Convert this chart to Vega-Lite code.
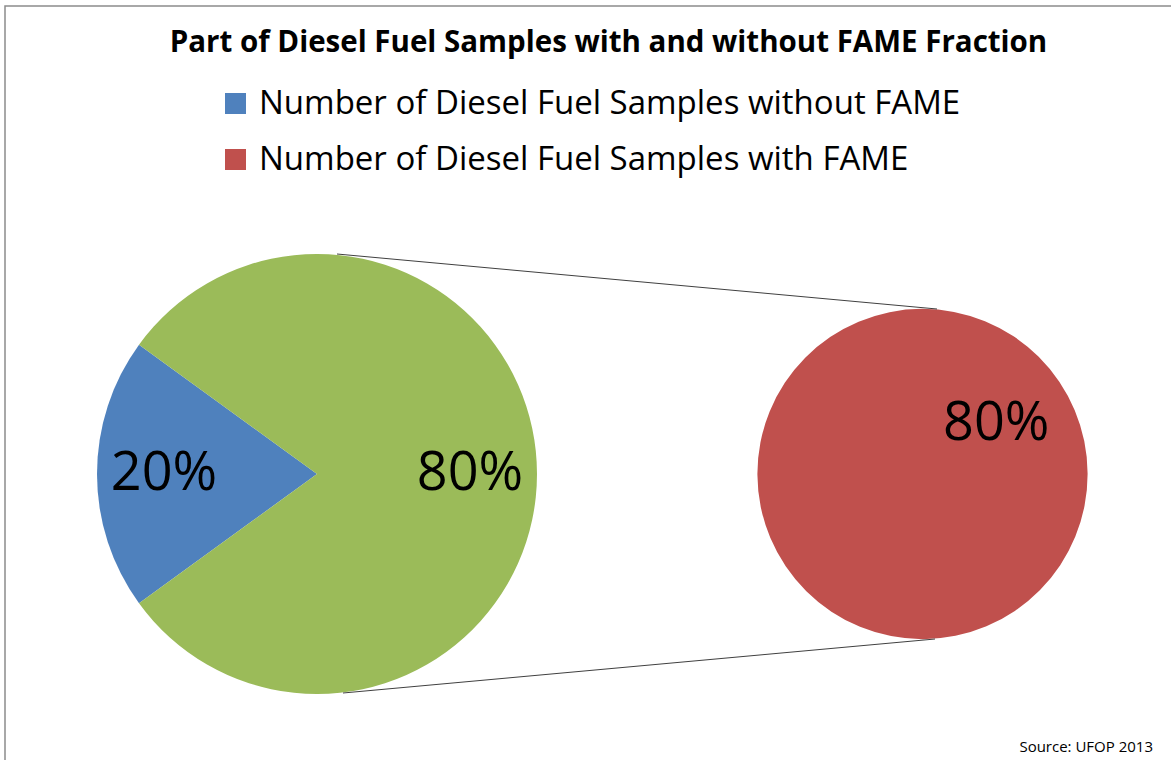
{
  "$schema": "https://vega.github.io/schema/vega-lite/v6.json",
  "width": 1171,
  "height": 760,
  "autosize": {"type": "fit", "contains": "padding"},
  "padding": {"left": 5, "top": 6, "right": -3, "bottom": -3},
  "background": "white",
  "config": {
    "font": "Open Sans",
    "view": {"stroke": "#8c8c8c", "strokeWidth": 1.5}
  },
  "title": {
    "text": "Part of Diesel Fuel Samples with and without FAME Fraction",
    "fontSize": 29.5,
    "fontWeight": "bold",
    "color": "black",
    "anchor": "middle",
    "frame": "group",
    "offset": -52,
    "dx": 19
  },
  "datasets": {
    "main": [
      {"category": "Number of Diesel Fuel Samples without FAME", "share": 0.2},
      {"category": "Other", "share": 0.8}
    ],
    "secondary": [
      {"category": "Number of Diesel Fuel Samples with FAME", "share": 0.8}
    ]
  },
  "resolve": {"scale": {"theta": "independent"}},
  "layer": [
    {
      "data": {"name": "main"},
      "encoding": {
        "x": {"datum": 317, "type": "quantitative", "scale": {"domain": [5, 1174], "nice": false, "zero": false}, "axis": null},
        "y": {"datum": 474, "type": "quantitative", "scale": {"domain": [763, 6], "nice": false, "zero": false}, "axis": null},
        "theta": {"field": "share", "type": "quantitative", "stack": true, "scale": {"range": [4.0841, 10.3673]}},
        "order": {"field": "category", "sort": "ascending"}
      },
      "layer": [
        {
          "mark": {"type": "arc", "radius": 220},
          "encoding": {
            "color": {
              "field": "category",
              "type": "nominal",
              "scale": {
                "domain": ["Number of Diesel Fuel Samples without FAME", "Number of Diesel Fuel Samples with FAME", "Other"],
                "range": ["#4F81BD", "#C0504D", "#9BBB59"]
              },
              "legend": {
                "title": null,
                "values": ["Number of Diesel Fuel Samples without FAME", "Number of Diesel Fuel Samples with FAME"],
                "orient": "none",
                "legendX": 214,
                "legendY": 81,
                "symbolType": "square",
                "symbolSize": 441,
                "symbolStrokeWidth": 0,
                "labelFontSize": 33,
                "labelColor": "black",
                "labelOffset": 7,
                "labelLimit": 1000,
                "rowPadding": 22,
                "padding": 0
              }
            }
          }
        },
        {
          "mark": {"type": "text", "radius": 153, "fontSize": 54, "color": "black", "align": "center", "baseline": "middle"},
          "encoding": {
            "text": {"field": "share", "type": "quantitative", "format": ".0%"}
          }
        }
      ]
    },
    {
      "data": {"name": "secondary"},
      "encoding": {
        "x": {"datum": 922.5, "type": "quantitative"},
        "y": {"datum": 474, "type": "quantitative"},
        "theta": {"field": "share", "type": "quantitative", "stack": true, "scale": {"range": [-2.1642, 4.1190]}}
      },
      "layer": [
        {
          "mark": {"type": "arc", "radius": 165},
          "encoding": {
            "color": {"field": "category", "type": "nominal"}
          }
        },
        {
          "mark": {"type": "text", "radius": 89, "fontSize": 54, "color": "black", "align": "center", "baseline": "middle"},
          "encoding": {
            "text": {"field": "share", "type": "quantitative", "format": ".0%"}
          }
        }
      ]
    },
    {
      "data": {"values": [{}]},
      "mark": {"type": "rule", "color": "#404040", "strokeWidth": 1},
      "encoding": {
        "x": {"datum": 337, "type": "quantitative"},
        "y": {"datum": 254, "type": "quantitative"},
        "x2": {"datum": 937},
        "y2": {"datum": 309}
      }
    },
    {
      "data": {"values": [{}]},
      "mark": {"type": "rule", "color": "#404040", "strokeWidth": 1},
      "encoding": {
        "x": {"datum": 343, "type": "quantitative"},
        "y": {"datum": 693, "type": "quantitative"},
        "x2": {"datum": 935},
        "y2": {"datum": 639}
      }
    },
    {
      "data": {"values": [{"note": "Source: UFOP 2013"}]},
      "mark": {"type": "text", "fontSize": 15, "color": "black", "align": "right", "baseline": "alphabetic"},
      "encoding": {
        "x": {"datum": 1153, "type": "quantitative"},
        "y": {"datum": 752, "type": "quantitative"},
        "text": {"field": "note", "type": "nominal"}
      }
    }
  ]
}
